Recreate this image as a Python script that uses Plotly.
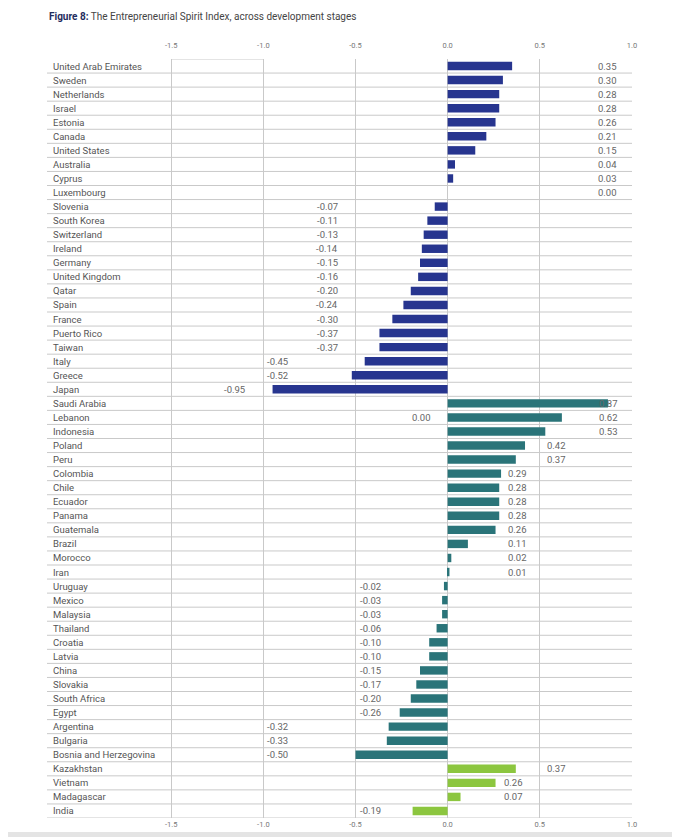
import plotly.graph_objects as go

# ---------------- data ----------------
innovation_countries = ["United Arab Emirates", "Sweden", "Netherlands", "Israel", "Estonia",
                        "Canada", "United States", "Australia", "Cyprus", "Luxembourg",
                        "Slovenia", "South Korea", "Switzerland", "Ireland", "Germany",
                        "United Kingdom", "Qatar", "Spain", "France", "Puerto Rico",
                        "Taiwan", "Italy", "Greece", "Japan"]
innovation_values = [0.35, 0.30, 0.28, 0.28, 0.26, 0.21, 0.15, 0.04, 0.03, 0.00,
                     -0.07, -0.11, -0.13, -0.14, -0.15, -0.16, -0.20, -0.24, -0.30, -0.37,
                     -0.37, -0.45, -0.52, -0.95]

efficiency_countries = ["Saudi Arabia", "Lebanon", "Indonesia", "Poland", "Peru", "Colombia",
                        "Chile", "Ecuador", "Panama", "Guatemala", "Brazil", "Morocco", "Iran",
                        "Uruguay", "Mexico", "Malaysia", "Thailand", "Croatia", "Latvia", "China",
                        "Slovakia", "South Africa", "Egypt", "Argentina", "Bulgaria",
                        "Bosnia and Herzegovina"]
efficiency_values = [0.87, 0.62, 0.53, 0.42, 0.37, 0.29, 0.28, 0.28, 0.28, 0.26, 0.11, 0.02, 0.01,
                     -0.02, -0.03, -0.03, -0.06, -0.10, -0.10, -0.15, -0.17, -0.20, -0.26,
                     -0.32, -0.33, -0.50]

factor_countries = ["Kazakhstan", "Vietnam", "Madagascar", "India"]
factor_values = [0.37, 0.26, 0.07, -0.19]

# extra stray value label printed in the source figure
extra_label_country = ["Lebanon"]
extra_label_text = ["0.00"]

x_ticks = [-1.5, -1.0, -0.5, 0.0, 0.5, 1.0]
x_tick_labels = ["-1.5", "-1.0", "-0.5", "0.0", "0.5", "1.0"]

title_bold = "Figure 8:"
title_rest = " The Entrepreneurial Spirit Index, across development stages"

# ---------------- styling / layout ----------------
FONT = "Roboto"
C_INNOV = "#27358f"
C_EFF = "#2a7479"
C_FACT = "#8cc63f"
GRID = "#c9c9c9"
TXT = "#555555"

W, H = 680, 837
OFF = 8  # page body margin offset
M_L, M_R, M_T, M_B = 47 - OFF, 48 + OFF, 59 - OFF, 19 + OFF

all_countries = innovation_countries + efficiency_countries + factor_countries
all_values = innovation_values + efficiency_values + factor_values
n = len(all_countries)

# where each value label sits (x in data units, anchor) - mimics the source layout
def label_place(i):
    c = all_countries[i]
    v = all_values[i]
    if c in innovation_countries:
        if v >= 0:
            return 0.93, "right"
        if v > -0.4:
            return -0.585, "right"
        if v > -0.6:
            return -0.99, "left"
        return -1.09, "right"
    if c in efficiency_countries:
        if v >= 0.5:
            return 0.935, "right"
        if v >= 0.35:
            return 0.53, "left"
        if v >= 0:
            return 0.315, "left"
        if v > -0.3:
            return -0.485, "left"
        return -0.99, "left"
    # factor-driven
    if v >= 0.3:
        return 0.53, "left"
    if v >= 0:
        return 0.42, "right"
    return -0.485, "left"

fig = go.Figure()
for names, vals, col in [(innovation_countries, innovation_values, C_INNOV),
                         (efficiency_countries, efficiency_values, C_EFF),
                         (factor_countries, factor_values, C_FACT)]:
    fig.add_trace(go.Bar(y=names, x=vals, orientation="h", marker_color=col,
                         marker_line_width=0, width=0.6, showlegend=False,
                         hoverinfo="x+y"))

# invisible trace to activate the top axis
fig.add_trace(go.Scatter(x=[0], y=[all_countries[0]], xaxis="x2", mode="markers",
                         marker_opacity=0, showlegend=False, hoverinfo="skip"))

annotations = []
for i, c in enumerate(all_countries):
    annotations.append(dict(x=0, xref="paper", y=c, yref="y", text=c, showarrow=False,
                            xanchor="left", xshift=4, font=dict(family=FONT, size=9.5, color=TXT)))
    lx, anc = label_place(i)
    annotations.append(dict(x=lx, xref="x", y=c, yref="y", text=f"{all_values[i]:.2f}",
                            showarrow=False, xanchor=anc, xshift=0,
                            font=dict(family=FONT, size=9.5, color="#666666")))
for c, t in zip(extra_label_country, extra_label_text):
    annotations.append(dict(x=-0.08, xref="x", y=c, yref="y", text=t, showarrow=False,
                            xanchor="right", font=dict(family=FONT, size=9.5, color="#666666")))

plot_h = H - M_T - M_B
# title (16 px from page top)
annotations.append(dict(x=0, xref="paper", y=1 + (M_T - (16 - OFF)) / plot_h, yref="paper",
                        yanchor="middle",
                        text=f"<b><span style='color:#1f2d5e'>{title_bold}</span></b>"
                             f"<span style='color:#444444'>{title_rest}</span>",
                        showarrow=False, xanchor="left", xshift=0,
                        font=dict(family=FONT, size=10)))

shapes = []
for i in range(n):
    shapes.append(dict(type="line", xref="paper", x0=0, x1=1, yref="y", y0=i + 0.5, y1=i + 0.5,
                       line=dict(color=GRID, width=1)))
shapes.append(dict(type="line", xref="x", x0=-1.5, x1=-1.0, yref="y", y0=-0.5, y1=-0.5,
                   line=dict(color=GRID, width=1)))
# light band at the page bottom (page px 832..837)
shapes.append(dict(type="rect", xref="paper", x0=-0.2, x1=1.2, yref="paper",
                   y0=-(832 - 818) / plot_h, y1=-(840 - 818) / plot_h,
                   fillcolor="#e4e4e4", line_width=0))

x_range = [-2.174, 1.0005]
axis_common = dict(range=x_range, tickvals=x_ticks, ticktext=x_tick_labels,
                   tickfont=dict(family=FONT, size=7.5, color="#777777"),
                   zeroline=False, showline=False)

fig.update_layout(
    width=W, height=H,
    margin=dict(l=M_L, r=M_R, t=M_T, b=M_B),
    paper_bgcolor="white", plot_bgcolor="white",
    bargap=0.4,
    xaxis=dict(**axis_common, showgrid=True, gridcolor=GRID, gridwidth=1, ticks="",
               side="bottom"),
    xaxis2=dict(**axis_common, overlaying="x", side="top", showgrid=False,
                ticks="outside", ticklen=7, tickcolor="rgba(0,0,0,0)"),
    yaxis=dict(categoryorder="array", categoryarray=all_countries, range=[n - 0.5, -0.5],
               showticklabels=False, showgrid=False, zeroline=False, ticks=""),
    annotations=annotations,
    shapes=shapes,
    font=dict(family=FONT),
)

fig.write_html("out.html")
